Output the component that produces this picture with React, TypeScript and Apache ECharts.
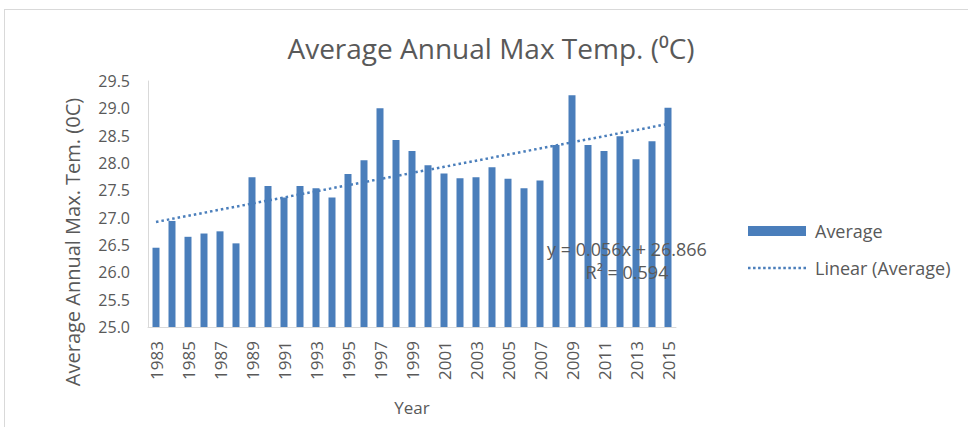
import React, { useEffect, useRef } from 'react';
import * as echarts from 'echarts';

const years = [
  '1983', '1984', '1985', '1986', '1987', '1988', '1989', '1990', '1991', '1992', '1993',
  '1994', '1995', '1996', '1997', '1998', '1999', '2000', '2001', '2002', '2003', '2004',
  '2005', '2006', '2007', '2008', '2009', '2010', '2011', '2012', '2013', '2014', '2015',
];

const averageTemp = [
  26.45, 26.94, 26.65, 26.71, 26.75, 26.53, 27.74, 27.58, 27.37, 27.58, 27.54,
  27.37, 27.8, 28.05, 29.0, 28.42, 28.22, 27.96, 27.81, 27.72, 27.74, 27.92,
  27.71, 27.54, 27.68, 28.33, 29.24, 28.33, 28.22, 28.49, 28.07, 28.4, 29.01,
];

// Linear trendline as printed on the chart
const trendSlope = 0.056;
const trendIntercept = 26.866;
const rSquared = 0.594;

const yMin = 25;
const yMax = 29.5;
const yStep = 0.5;

const BLUE = '#4A7EBB';
const GRAY = '#595959';
const FONT = 'Open Sans';

// dotted legend swatch
const dottedIcon =
  'path://' +
  Array.from({ length: 12 }, (_, i) => `M${i * 5},0h2.5v2.5h-2.5z`).join(' ');

export default function App() {
  const ref = useRef<HTMLDivElement>(null);

  useEffect(() => {
    if (!ref.current) return;
    const chart = echarts.init(ref.current, undefined, { renderer: 'svg' });
    const trend = years.map((_, i) => +(trendSlope * (i + 1) + trendIntercept).toFixed(3));

    chart.setOption({
      animation: false,
      backgroundColor: '#ffffff',
      textStyle: { fontFamily: FONT },
      title: {
        text: 'Average Annual Max Temp. (⁰C)',
        left: 491,
        textAlign: 'center',
        top: 34,
        padding: 0,
        textStyle: { fontFamily: FONT, fontSize: 28, fontWeight: 'normal', color: GRAY },
      },
      grid: { left: 148, right: 292, top: 81, bottom: 100, containLabel: false },
      legend: [
        {
          data: ['Average'],
          left: 748,
          top: 222,
          padding: 0,
          icon: 'rect',
          itemWidth: 58,
          itemHeight: 10,
          itemGap: 0,
          textStyle: { fontFamily: FONT, fontSize: 18, color: GRAY, padding: [0, 0, 0, 4] },
        },
        {
          data: [{ name: 'Linear (Average)', icon: dottedIcon }],
          left: 748,
          top: 259,
          padding: 0,
          itemWidth: 58,
          itemHeight: 3,
          itemGap: 0,
          itemStyle: { color: BLUE },
          textStyle: { fontFamily: FONT, fontSize: 18, color: GRAY, padding: [0, 0, 0, 4] },
        },
      ],
      xAxis: {
        type: 'category',
        data: years,
        name: 'Year',
        nameLocation: 'middle',
        nameGap: 72,
        nameTextStyle: { fontFamily: FONT, fontSize: 17, color: GRAY },
        axisTick: { show: false },
        axisLine: { lineStyle: { color: '#d9d9d9', width: 1 } },
        axisLabel: {
          rotate: 90,
          interval: 1,
          fontSize: 17,
          color: GRAY,
          margin: 14,
          fontFamily: FONT,
        },
      },
      yAxis: {
        type: 'value',
        min: yMin,
        max: yMax,
        interval: yStep,
        splitLine: { show: false },
        axisTick: { show: false },
        axisLine: { show: true, lineStyle: { color: '#d9d9d9', width: 1 } },
        axisLabel: {
          fontSize: 16,
          color: GRAY,
          margin: 18,
          fontFamily: FONT,
          formatter: (v: number) => v.toFixed(1),
        },
      },
      series: [
        {
          name: 'Average',
          type: 'bar',
          data: averageTemp,
          barWidth: 7,
          itemStyle: { color: BLUE },
          z: 2,
        },
        {
          name: 'Linear (Average)',
          type: 'line',
          data: trend,
          symbol: 'none',
          lineStyle: { color: BLUE, width: 2.5, type: [2.5, 3] },
          itemStyle: { color: BLUE },
          z: 3,
        },
      ],
      graphic: [
        {
          type: 'line',
          shape: { x1: 4, y1: 9.5, x2: 968, y2: 9.5 },
          style: { stroke: '#d9d9d9', lineWidth: 1 },
        },
        {
          type: 'line',
          shape: { x1: 4.5, y1: 9, x2: 4.5, y2: 427 },
          style: { stroke: '#d9d9d9', lineWidth: 1 },
        },
        {
          type: 'text',
          x: 72,
          y: 242,
          rotation: Math.PI / 2,
          style: {
            text: 'Average Annual Max. Tem. (0C)',
            fontFamily: FONT,
            fontSize: 20,
            fill: GRAY,
            align: 'center',
            verticalAlign: 'middle',
          },
        },
        {
          type: 'text',
          x: 627,
          y: 260,
          z: 10,
          style: {
            text: `y = ${trendSlope.toFixed(3)}x + ${trendIntercept.toFixed(3)}\nR² = ${rSquared.toFixed(3)}`,
            fontFamily: FONT,
            fontSize: 18,
            lineHeight: 23,
            fill: GRAY,
            align: 'center',
            verticalAlign: 'middle',
          },
        },
      ],
    });

    return () => chart.dispose();
  }, []);

  return (
    <div
      ref={ref}
      style={{ position: 'fixed', left: 0, top: 0, width: 968, height: 427 }}
    />
  );
}
